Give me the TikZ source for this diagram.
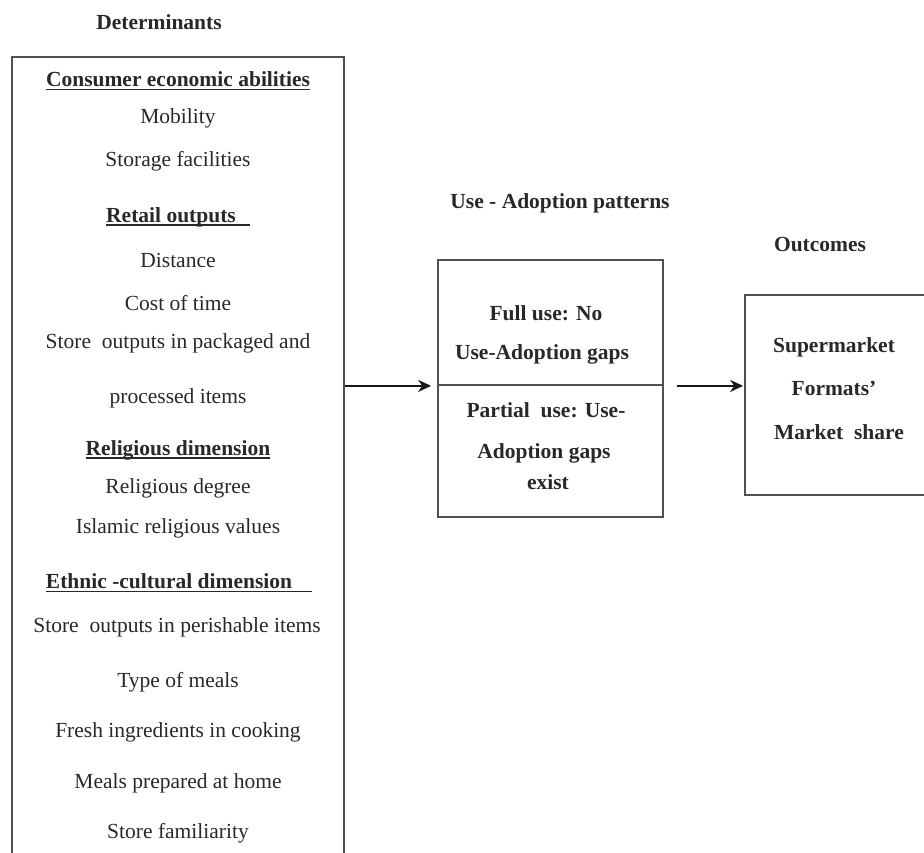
\documentclass[tikz,border=0pt]{standalone}
\usepackage{fontspec}
\setmainfont{Liberation Serif}
\usetikzlibrary{arrows.meta}
\definecolor{figtext}{RGB}{40,40,40}
\definecolor{figline}{RGB}{80,80,80}
\newcommand{\ulhead}[1]{\setbox0\hbox{#1}\rlap{\rule[-3.5pt]{\wd0}{1.7pt}}\box0}

\begin{document}
\begin{tikzpicture}[yscale=-1
                ,box/.style={draw=figline,line width=1.8pt,inner sep=0pt}
                ,txt/.style={text=figtext,font=\fontsize{21.5}{25}\selectfont,inner sep=0pt}
                ,head/.style={text=figtext,font=\fontsize{21.5}{25}\selectfont\bfseries,inner sep=0pt}
                ,flow/.style={-{Stealth[length=13pt,width=12pt]},line width=2.8pt,color=black!90}
            ]
            \useasboundingbox (0pt,0pt) rectangle (924pt,852pt);
            % boxes
            \node[box,minimum width=332pt,minimum height=823pt] (det) at (178pt,468.5pt) {};
            \node[box,minimum width=225pt,minimum height=125pt] (full) at (550.5pt,322.5pt) {};
            \node[box,minimum width=225pt,minimum height=132pt] (part) at (550.5pt,451pt) {};
            \node[box,minimum width=185pt,minimum height=200pt] (out) at (837.5pt,395pt) {};
            % titles
            \node[head] (hdet) at (159pt,22pt) {Determinants};
            \node[head] (huse) at (560pt,203pt) {Use - Adoption patterns};
            \node[head] (hout) at (820pt,245pt) {Outcomes};
            % determinants
            \node[head] (d1) at (178pt,81pt) {\ulhead{Consumer economic abilities}};
            \node[txt] (d2) at (178pt,118pt) {Mobility};
            \node[txt] (d3) at (178pt,161pt) {Storage facilities};
            \node[head] (d4) at (178pt,217pt) {\ulhead{Retail outputs\hspace{14pt}}};
            \node[txt] (d5) at (178pt,260pt) {Distance};
            \node[txt] (d6) at (178pt,303pt) {Cost of time};
            \node[txt] (d7) at (178pt,343pt) {Store~ outputs in packaged and};
            \node[txt] (d8) at (178pt,398pt) {processed items};
            \node[head] (d9) at (178pt,450pt) {\ulhead{Religious dimension}};
            \node[txt] (d10) at (178pt,488pt) {Religious degree};
            \node[txt] (d11) at (178pt,528pt) {Islamic religious values};
            \node[head] (d12) at (179pt,583pt) {\ulhead{Ethnic -cultural dimension\hspace{20pt}}};
            \node[txt] (d13) at (177pt,627pt) {Store~ outputs in perishable items};
            \node[txt] (d14) at (178pt,682pt) {Type of meals};
            \node[txt] (d15) at (178pt,732pt) {Fresh ingredients in cooking};
            \node[txt] (d16) at (178pt,783pt) {Meals prepared at home};
            \node[txt] (d17) at (178pt,833pt) {Store familiarity};
            % use - adoption
            \node[head] (u1) at (546pt,313pt) {Full use: No};
            \node[head] (u2) at (542pt,354pt) {Use-Adoption gaps};
            \node[head] (u3) at (546pt,410pt) {Partial~ use: Use-};
            \node[head] (u4) at (544pt,453pt) {Adoption gaps};
            \node[head] (u5) at (548pt,482pt) {exist};
            % outcomes
            \node[head] (o1) at (834pt,347pt) {Supermarket};
            \node[head] (o2) at (834pt,388pt) {Formats’};
            \node[head] (o3) at (839pt,432pt) {Market~ share};
            % arrows
            \draw[flow,shorten >=6pt] (det.east |- full.south west) -- (full.south west);
            \draw[flow,shorten <=13pt,shorten >=1pt] (full.south east) -- (out.west |- full.south east);
        \end{tikzpicture}
\end{document}
